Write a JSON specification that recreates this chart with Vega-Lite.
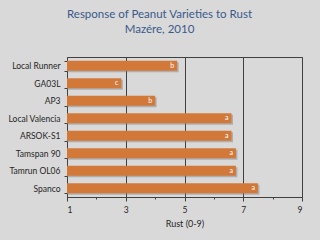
{
  "$schema": "https://vega.github.io/schema/vega-lite/v6.json",
  "width": 235,
  "height": 140,
  "autosize": "none",
  "padding": {"left": 67, "top": 57, "right": 18, "bottom": 43},
  "background": "#d9d9d9",
  "title": {
    "text": ["Response of Peanut Varieties to Rust", "Mazére, 2010"],
    "anchor": "middle",
    "dx": -25,
    "offset": 18,
    "font": "Lato",
    "fontSize": 11.5,
    "fontWeight": "normal",
    "color": "#3a5a8c",
    "lineHeight": 15
  },
  "config": {
    "font": "Lato",
    "view": {"stroke": "#404040", "strokeWidth": 1}
  },
  "data": {
    "values": [
      {"variety": "Local Runner", "rust": 4.75, "group": "b"},
      {"variety": "GA03L", "rust": 2.85, "group": "c"},
      {"variety": "AP3", "rust": 4.0, "group": "b"},
      {"variety": "Local Valencia", "rust": 6.6, "group": "a"},
      {"variety": "ARSOK-S1", "rust": 6.6, "group": "a"},
      {"variety": "Tamspan 90", "rust": 6.75, "group": "a"},
      {"variety": "Tamrun OL06", "rust": 6.75, "group": "a"},
      {"variety": "Spanco", "rust": 7.5, "group": "a"}
    ]
  },
  "encoding": {
    "y": {
      "field": "variety",
      "type": "nominal",
      "sort": null,
      "scale": {"paddingInner": 0.42, "paddingOuter": 0.21},
      "axis": {
        "title": null,
        "labelFontSize": 8.5,
        "labelColor": "#262626",
        "labelPadding": 4,
        "domainColor": "#404040",
        "tickColor": "#404040",
        "tickBand": "extent",
        "tickSize": 3
      }
    },
    "x": {
      "field": "rust",
      "type": "quantitative",
      "scale": {"domain": [1, 9], "nice": false, "zero": false},
      "axis": {
        "title": "Rust (0-9)",
        "titleFontSize": 9,
        "titleFontWeight": "normal",
        "titleColor": "#262626",
        "titlePadding": 6,
        "values": [1, 2, 3, 4, 5, 6, 7, 8, 9],
        "labelExpr": "datum.value % 2 == 1 ? datum.label : ''",
        "labelFontSize": 8.5,
        "labelColor": "#262626",
        "labelPadding": 4,
        "domainColor": "#404040",
        "tickColor": "#404040",
        "tickSize": {"condition": {"test": "datum.value % 2 == 0", "value": 2}, "value": 4},
        "grid": true,
        "gridColor": "#404040",
        "gridOpacity": {"condition": {"test": "datum.value % 2 == 0 || datum.value == 1", "value": 0}, "value": 1}
      }
    }
  },
  "layer": [
    {
      "mark": {"type": "bar", "color": "#7a7a7a", "opacity": 0.45, "xOffset": 1.5, "yOffset": 1.5},
      "encoding": {"x2": {"datum": 1}}
    },
    {
      "mark": {"type": "bar", "color": "#d2793a"},
      "encoding": {"x2": {"datum": 1}}
    },
    {
      "mark": {"type": "text", "align": "right", "baseline": "middle", "dx": -3, "fontSize": 7, "color": "#ffffff"},
      "encoding": {"text": {"field": "group"}}
    }
  ]
}
